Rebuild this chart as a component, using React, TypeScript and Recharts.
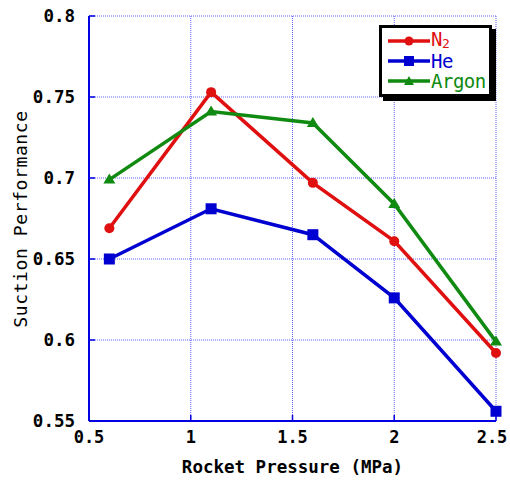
import { LineChart, Line, XAxis, YAxis, CartesianGrid, Label } from 'recharts';

const pressures = [0.6, 1.1, 1.6, 2.0, 2.5];
const n2 = [0.669, 0.753, 0.697, 0.661, 0.592];
const he = [0.65, 0.681, 0.665, 0.626, 0.556];
const argon = [0.699, 0.741, 0.734, 0.684, 0.599];

const xTicks = [0.5, 1, 1.5, 2, 2.5];
const xTickLabels = ['0.5', '1', '1.5', '2', '2.5'];
const yTicks = [0.55, 0.6, 0.65, 0.7, 0.75, 0.8];
const yTickLabels = ['0.55', '0.6', '0.65', '0.7', '0.75', '0.8'];

const data = pressures.map((p, i) => ({ p, n2: n2[i], he: he[i], argon: argon[i] }));

const RED = '#e01010';
const BLUE = '#0000d0';
const GREEN = '#108a10';
const AXIS = '#0000e0';
const GRID = '#6060ff';
const FONT = '"DejaVu Sans Mono", monospace';

// plot box edges (px)
const L = 89;
const R = 496;
const T = 16;
const B = 421;

const CircleDot = (props: any) => {
  const { cx, cy, key } = props;
  if (cx == null || cy == null) return null;
  return <circle key={key} cx={cx} cy={cy} r={5} fill={RED} />;
};
const SquareDot = (props: any) => {
  const { cx, cy, key } = props;
  if (cx == null || cy == null) return null;
  return <rect key={key} x={cx - 5.5} y={cy - 5.5} width={11} height={11} fill={BLUE} />;
};
const TriDot = (props: any) => {
  const { cx, cy, key } = props;
  if (cx == null || cy == null) return null;
  return <path key={key} d={`M${cx},${cy - 6} L${cx + 6},${cy + 4} L${cx - 6},${cy + 4} Z`} fill={GREEN} />;
};

const XTick = (props: any) => {
  const { x, payload } = props;
  const i = xTicks.indexOf(payload.value);
  return (
    <g>
      <line x1={x} x2={x} y1={B} y2={B - 6} stroke={AXIS} strokeWidth={1.5} />
      <text x={Math.min(x, 492)} y={437} textAnchor="middle" dominantBaseline="central" fontFamily={FONT} fontWeight="bold" fontSize={17} fill="#000">
        {xTickLabels[i]}
      </text>
    </g>
  );
};
const YTick = (props: any) => {
  const { y, payload } = props;
  const i = yTicks.findIndex((v) => Math.abs(v - payload.value) < 1e-9);
  return (
    <g>
      <line x1={L} x2={L + 6} y1={y} y2={y} stroke={AXIS} strokeWidth={1.5} />
      <text x={75} y={y} textAnchor="end" dominantBaseline="central" fontFamily={FONT} fontWeight="bold" fontSize={17.5} fill="#000">
        {yTickLabels[i]}
      </text>
    </g>
  );
};
const TopTick = (props: any) => {
  const { x } = props;
  return <line x1={x} x2={x} y1={T} y2={T + 6} stroke={AXIS} strokeWidth={1.5} />;
};
const RightTick = (props: any) => {
  const { y } = props;
  return <line x1={R} x2={R - 6} y1={y} y2={y} stroke={AXIS} strokeWidth={1.5} />;
};

const legendItems = [
  { name: 'N', sub: '2', color: RED, marker: 'circle' },
  { name: 'He', sub: '', color: BLUE, marker: 'square' },
  { name: 'Argon', sub: '', color: GREEN, marker: 'tri' },
];

function ChartLegend() {
  return (
    <div
      style={{
        position: 'absolute',
        left: 379,
        top: 25,
        width: 107,
        height: 66,
        border: '3px solid #000',
        boxShadow: '4px 4px 0 #000',
        background: '#fff',
        fontFamily: FONT,
        fontSize: 19,
      }}
    >
      {legendItems.map((it, i) => (
        <div key={i} style={{ position: 'absolute', left: 6, top: 3 + i * 20, height: 20, display: 'flex', alignItems: 'center' }}>
          <svg width={42} height={14} style={{ display: 'block' }}>
            <line x1={0} x2={42} y1={7} y2={7} stroke={it.color} strokeWidth={3.5} />
            {it.marker === 'circle' && <circle cx={21} cy={7} r={4.5} fill={it.color} />}
            {it.marker === 'square' && <rect x={16} y={2} width={10} height={10} fill={it.color} />}
            {it.marker === 'tri' && <path d="M21,2 L26,11 L16,11 Z" fill={it.color} />}
          </svg>
          <span style={{ color: it.color, marginLeft: 1, lineHeight: '18px', letterSpacing: -0.5 }}>
            {it.name}
            {it.sub && <span style={{ fontSize: 13, verticalAlign: '-2px' }}>{it.sub}</span>}
          </span>
        </div>
      ))}
    </div>
  );
}

export default function App() {
  return (
    <div style={{ position: 'absolute', left: 0, top: 0, width: 510, height: 485, background: '#fff' }}>
      <LineChart width={510} height={485} data={data} margin={{ top: T, right: 510 - R, bottom: 485 - B - 30, left: L - 70 }}>
        <CartesianGrid stroke={GRID} strokeDasharray="1 1" strokeWidth={1} />
        <XAxis
          dataKey="p"
          type="number"
          domain={[0.5, 2.5]}
          ticks={xTicks}
          height={30}
          stroke={AXIS}
          strokeWidth={2}
          tickLine={false}
          tick={<XTick />}
          interval={0}
        >
          <Label
            content={() => (
              <text x={(L + R) / 2} y={467} textAnchor="middle" dominantBaseline="central" fontFamily={FONT} fontWeight="bold" fontSize={17.5} fill="#000">
                Rocket Pressure (MPa)
              </text>
            )}
          />
        </XAxis>
        <XAxis
          xAxisId="top"
          orientation="top"
          dataKey="p"
          type="number"
          domain={[0.5, 2.5]}
          ticks={xTicks}
          height={0}
          stroke={AXIS}
          strokeWidth={2}
          tickLine={false}
          tick={<TopTick />}
          interval={0}
        />
        <YAxis
          type="number"
          domain={[0.55, 0.8]}
          ticks={yTicks}
          width={70}
          stroke={AXIS}
          strokeWidth={2}
          tickLine={false}
          tick={<YTick />}
          interval={0}
        >
          <Label
            content={() => (
              <text x={20} y={219} transform="rotate(-90 20 219)" textAnchor="middle" dominantBaseline="central" fontFamily={FONT} fontSize={18} letterSpacing={0.6} fill="#000">
                Suction Performance
              </text>
            )}
          />
        </YAxis>
        <YAxis
          yAxisId="right"
          orientation="right"
          type="number"
          domain={[0.55, 0.8]}
          ticks={yTicks}
          width={0}
          stroke={AXIS}
          strokeWidth={2}
          tickLine={false}
          tick={<RightTick />}
          interval={0}
        />
        <Line dataKey="n2" stroke={RED} strokeWidth={3.5} dot={CircleDot} isAnimationActive={false} />
        <Line dataKey="he" stroke={BLUE} strokeWidth={3.5} dot={SquareDot} isAnimationActive={false} />
        <Line dataKey="argon" stroke={GREEN} strokeWidth={3.5} dot={TriDot} isAnimationActive={false} />
      </LineChart>
      <ChartLegend />
    </div>
  );
}
